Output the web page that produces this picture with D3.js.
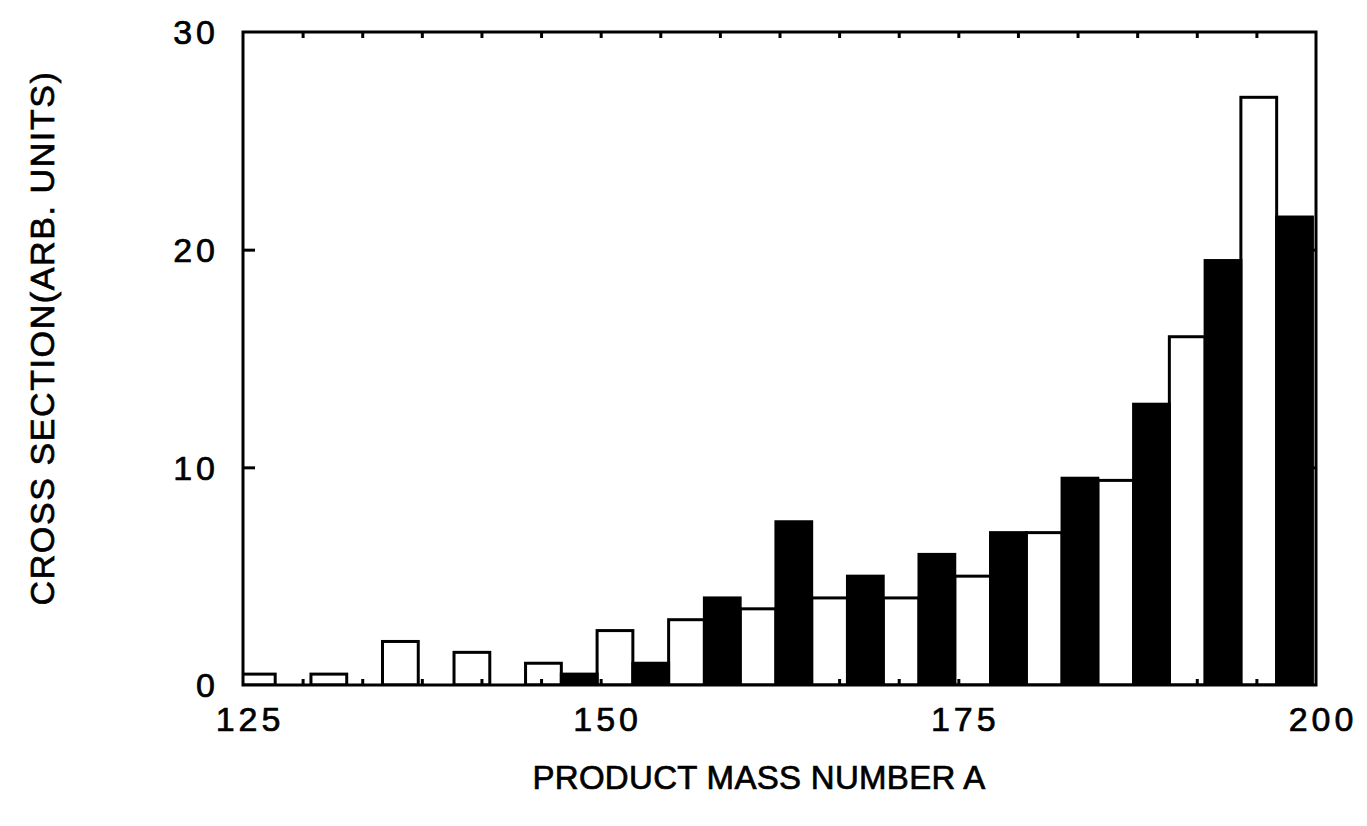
<!DOCTYPE html>
<html>
<head>
<meta charset="utf-8">
<title>Cross section vs product mass</title>
<script src="https://cdnjs.cloudflare.com/ajax/libs/d3/7.8.5/d3.min.js"></script>
<style>
body { margin: 0; background: #fff; }
svg text { font-family: "Liberation Sans", Arial, sans-serif; fill: #000; stroke: #000; stroke-width: 0.7px; }
.tick-label { font-size: 34px; letter-spacing: 4px; }
.x-title { font-size: 33px; letter-spacing: 0.3px; }
.y-title { font-size: 34px; letter-spacing: 1.6px; }
</style>
</head>
<body>
<script>
// bin width in mass units
var binWidth = 2.5;

// open bars
var openMass = [126, 131, 136, 141, 146, 151, 156, 161, 166, 171, 176, 181, 186, 191, 196];
var openValue = [0.5, 0.5, 2.0, 1.5, 1.0, 2.5, 3.0, 3.5, 4.0, 4.0, 5.0, 7.0, 9.4, 16.0, 27.0];

// filled bars
var filledMass = [148.5, 153.5, 158.5, 163.5, 168.5, 173.5, 178.5, 183.5, 188.5, 193.5, 198.5];
var filledValue = [0.5, 1.0, 4.0, 7.5, 5.0, 6.0, 7.0, 9.5, 12.9, 19.5, 21.5];

var xTicks = [125, 150, 175, 200];
var yTicks = [0, 10, 20, 30];

var width = 1367, height = 826;
var margin = {top: 32, right: 51, bottom: 141, left: 243};
var w = width - margin.left - margin.right;
var h = height - margin.top - margin.bottom;

var x = d3.scaleLinear().domain([125, 200]).range([0, w]);
var y = d3.scaleLinear().domain([0, 30]).range([h, 0]);

var svg = d3.select("body").append("svg")
  .attr("width", width)
  .attr("height", height);

svg.append("defs").append("clipPath").attr("id", "plot")
  .append("rect").attr("width", w).attr("height", h);

var g = svg.append("g").attr("transform", "translate(" + margin.left + "," + margin.top + ")");

var bars = g.append("g").attr("clip-path", "url(#plot)");

function drawBars(mass, vals, fill) {
  var data = mass.map(function(m, i) { return {m: m, v: vals[i]}; });
  bars.selectAll(null)
    .data(data)
    .enter().append("rect")
    .attr("x", function(d) { return x(d.m - binWidth / 2); })
    .attr("width", function(d) { return x(d.m + binWidth / 2) - x(d.m - binWidth / 2); })
    .attr("y", function(d) { return y(d.v); })
    .attr("height", function(d) { return y(0) - y(d.v); })
    .attr("fill", fill)
    .attr("stroke", "#000")
    .attr("stroke-width", 3);
}
drawBars(openMass, openValue, "#fff");
drawBars(filledMass, filledValue, "#000");

// small inward ticks on top and bottom
var minor = d3.range(1, 18).map(function(i) { return 125 + i * 75 / 18; });
function thick(s) { s.select(".domain").remove(); s.selectAll("line").attr("stroke-width", 3); }
g.append("g")
  .call(d3.axisTop(x).tickValues(minor).tickSize(-6).tickFormat(""))
  .call(thick);
g.append("g").attr("transform", "translate(0," + h + ")")
  .call(d3.axisBottom(x).tickValues(minor).tickSize(-6).tickFormat(""))
  .call(thick);

// y ticks on both sides
g.append("g")
  .call(d3.axisLeft(y).tickValues([10, 20]).tickSize(-12).tickFormat(""))
  .call(thick);
g.append("g").attr("transform", "translate(" + w + ",0)")
  .call(d3.axisRight(y).tickValues([10, 20]).tickSize(-12).tickFormat(""))
  .call(thick);

// frame
g.append("rect")
  .attr("width", w).attr("height", h)
  .attr("fill", "none").attr("stroke", "#000").attr("stroke-width", 3);

// tick labels
g.selectAll(".xl").data(xTicks).enter().append("text")
  .attr("class", "tick-label")
  .attr("x", function(d) { return x(d) + 7; })
  .attr("y", h + 46)
  .attr("text-anchor", "middle")
  .text(function(d) { return d; });

g.selectAll(".yl").data(yTicks).enter().append("text")
  .attr("class", "tick-label")
  .attr("x", -24)
  .attr("y", function(d) { return y(d); })
  .attr("dy", "0.36em")
  .attr("text-anchor", "end")
  .text(function(d) { return d; });

// axis titles
svg.append("text")
  .attr("class", "x-title")
  .attr("x", 759)
  .attr("y", 789)
  .attr("text-anchor", "middle")
  .text("PRODUCT MASS NUMBER A");

svg.append("text")
  .attr("class", "y-title")
  .attr("transform", "translate(54,338) rotate(-90)")
  .attr("text-anchor", "middle")
  .text("CROSS SECTION(ARB. UNITS)");
</script>
</body>
</html>
